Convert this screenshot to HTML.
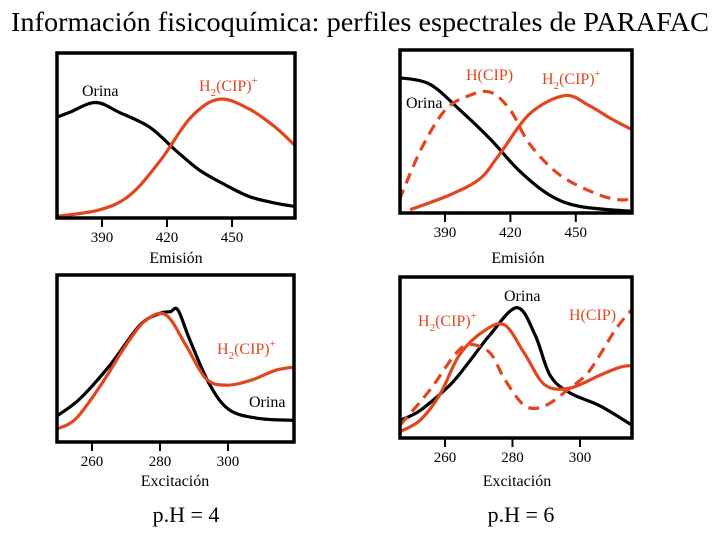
<!DOCTYPE html>
<html><head><meta charset="utf-8">
<style>
html,body{margin:0;padding:0;background:#fff}
svg{display:block;font-family:"Liberation Serif",serif}
</style></head>
<body>
<svg id="c" width="720" height="540" viewBox="0 0 720 540">
<text x="360" y="31" text-anchor="middle" font-size="27.5" textLength="698" lengthAdjust="spacingAndGlyphs">Información fisicoquímica: perfiles espectrales de PARAFAC</text>
<text x="186" y="522" text-anchor="middle" font-size="22">p.H = 4</text>
<text x="521" y="522" text-anchor="middle" font-size="22">p.H = 6</text>
</svg>
<script>
// Panel A: emission pH 4
const emA_orina_x=[369,375,387,398,412,424,435,447,458,470,479];
const emA_orina_y=[0.61,0.64,0.70,0.64,0.55,0.41,0.29,0.20,0.13,0.09,0.07];
const emA_h2_x=[369,389,403,417,431,444,458,470,479];
const emA_h2_y=[0.01,0.05,0.14,0.35,0.61,0.72,0.66,0.55,0.44];
// Panel B: emission pH 6
const emB_orina_x=[369,383,397,411,424,438,452,476];
const emB_orina_y=[0.83,0.79,0.63,0.45,0.26,0.11,0.04,0.01];
const emB_h_x=[369,379,390,401,411,420,429,443,461,472,476];
const emB_h_y=[0.08,0.39,0.63,0.72,0.74,0.63,0.42,0.23,0.11,0.08,0.11];
const emB_h2_x=[374,392,406,415,429,445,456,466,476];
const emB_h2_y=[0.02,0.11,0.21,0.36,0.61,0.72,0.66,0.58,0.51];
// Panel C: excitation pH 4
const exA_orina_x=[250,256.5,265.3,274.1,280,283,285.3,288.8,294.7,300.6,309.4,319.4];
const exA_orina_y=[0.16,0.26,0.46,0.70,0.77,0.78,0.79,0.61,0.34,0.19,0.14,0.13];
const exA_h2_x=[250,255.3,262.6,270,275.9,281.8,287.6,293.5,299.4,306.8,314.1,319.7];
const exA_h2_y=[0.08,0.14,0.34,0.58,0.73,0.76,0.58,0.38,0.34,0.37,0.43,0.45];
// Panel D: excitation pH 6
const exB_orina_x=[246.7,252.6,261.5,267.4,273.3,281.3,286.7,291.1,297,305.9,315.4];
const exB_orina_y=[0.11,0.17,0.33,0.48,0.64,0.81,0.64,0.39,0.28,0.20,0.08];
const exB_h2_x=[246.7,252.6,258.5,264.4,271.9,277.8,283.7,289.6,297,305.9,311.9,315.4];
const exB_h2_y=[0.04,0.11,0.27,0.52,0.67,0.70,0.52,0.33,0.31,0.39,0.44,0.45];
const exB_h_x=[246.7,255.6,263,267.4,273.3,277.8,283.7,289.6,297,302.9,310.4,315.4];
const exB_h_y=[0.08,0.30,0.52,0.58,0.53,0.36,0.20,0.20,0.31,0.42,0.67,0.80];
const emTicks=[390,420,450];
const exTicks=[260,280,300];

const NS="http://www.w3.org/2000/svg";
const svg=document.getElementById('c');
const RED="#e2461e";
function el(tag,attrs,parent){const e=document.createElementNS(NS,tag);for(const k in attrs)e.setAttribute(k,attrs[k]);(parent||svg).appendChild(e);return e;}
function smooth(pts){
  let d='M'+pts[0][0].toFixed(1)+' '+pts[0][1].toFixed(1);
  for(let i=0;i<pts.length-1;i++){
    const p0=pts[i-1]||pts[i],p1=pts[i],p2=pts[i+1],p3=pts[i+2]||p2;
    const c1=[p1[0]+(p2[0]-p0[0])/6,p1[1]+(p2[1]-p0[1])/6];
    const c2=[p2[0]-(p3[0]-p1[0])/6,p2[1]-(p3[1]-p1[1])/6];
    d+=' C'+c1.map(v=>v.toFixed(1)).join(' ')+' '+c2.map(v=>v.toFixed(1)).join(' ')+' '+p2.map(v=>v.toFixed(1)).join(' ');
  }
  return d;
}

function panel(name,box,x0,px0,ppu,ticks,xtitle,series,labels){
  const g=el('g',{});
  
  
  const sx=v=>px0+(v-x0)*ppu;
  const sy=v=>box.b-v*(box.b-box.t);
  const clip=el('clipPath',{id:name+'-clip'},g);
  el('rect',{x:box.l,y:box.t,width:box.r-box.l,height:box.b-box.t},clip);
  series.forEach(s=>{
    const d=smooth(s.x.map((v,i)=>[sx(v),sy(s.y[i])]));
    const p=el('path',{d:d,fill:'none',stroke:s.c,'stroke-width':3.2,'stroke-linejoin':'round','clip-path':'url(#'+name+'-clip)'},g);
    if(s.dash)p.setAttribute('stroke-dasharray','11 7');
    
    
  });
  const fr=el('rect',{x:box.l,y:box.t,width:box.r-box.l,height:box.b-box.t,fill:'none',stroke:'#000','stroke-width':3.5},g);
  
  
  ticks.forEach(t=>{
    const x=sx(t);
    const tk=el('line',{x1:x,x2:x,y1:box.b,y2:box.b+9,stroke:'#000','stroke-width':2},g);
    
    
    const tl=el('text',{x:x,y:box.b+24,'text-anchor':'middle','font-size':15},g);
    tl.textContent=t;
    
    
  });
  const xt=el('text',{x:xtitle.x,y:xtitle.y,'text-anchor':'middle','font-size':16},g);
  xt.textContent=xtitle.t;
  
  
  labels.forEach(l=>{
    const t=el('text',{x:l.x,y:l.y,'font-size':16,fill:l.c},g);
    if(l.h2){
      t.appendChild(document.createTextNode('H'));
      const s1=el('tspan',{dy:5,'font-size':11},t);s1.textContent='2';
      const s2=el('tspan',{dy:-5},t);s2.textContent='(CIP)';
      const s3=el('tspan',{dy:-7,'font-size':11},t);s3.textContent='+';
    } else t.textContent=l.t;
    
    
  });
}

panel('emission-ph4',{l:57,r:295,t:53,b:218},390,102,2.167,emTicks,{x:176,y:263,t:'Emisión'},
 [{x:emA_orina_x,y:emA_orina_y,c:'#000',n:'orina-line'},{x:emA_h2_x,y:emA_h2_y,c:RED,n:'h2cip-line'}],
 [{x:82,y:96,t:'Orina',c:'#000',n:'orina-label'},{x:199,y:91,h2:1,c:RED,n:'h2cip-label'}]);
panel('emission-ph6',{l:400,r:632,t:50,b:213},390,445,2.18,emTicks,{x:518,y:263,t:'Emisión'},
 [{x:emB_orina_x,y:emB_orina_y,c:'#000',n:'orina-line'},{x:emB_h_x,y:emB_h_y,c:RED,dash:1,n:'hcip-line'},{x:emB_h2_x,y:emB_h2_y,c:RED,n:'h2cip-line'}],
 [{x:406,y:108,t:'Orina',c:'#000',n:'orina-label'},{x:466,y:80,t:'H(CIP)',c:RED,n:'hcip-label'},{x:542,y:84,h2:1,c:RED,n:'h2cip-label'}]);
panel('excitation-ph4',{l:57,r:294,t:275,b:442},260,92,3.4,exTicks,{x:175,y:486,t:'Excitación'},
 [{x:exA_orina_x,y:exA_orina_y,c:'#000',n:'orina-line'},{x:exA_h2_x,y:exA_h2_y,c:RED,n:'h2cip-line'}],
 [{x:249,y:407,t:'Orina',c:'#000',n:'orina-label'},{x:217,y:354,h2:1,c:RED,n:'h2cip-label'}]);
panel('excitation-ph6',{l:400,r:632,t:277,b:438},260,445,3.375,exTicks,{x:517,y:486,t:'Excitación'},
 [{x:exB_orina_x,y:exB_orina_y,c:'#000',n:'orina-line'},{x:exB_h_x,y:exB_h_y,c:RED,dash:1,n:'hcip-line'},{x:exB_h2_x,y:exB_h2_y,c:RED,n:'h2cip-line'}],
 [{x:504,y:301,t:'Orina',c:'#000',n:'orina-label'},{x:569,y:320,t:'H(CIP)',c:RED,n:'hcip-label'},{x:418,y:326,h2:1,c:RED,n:'h2cip-label'}]);
</script>
</body></html>
